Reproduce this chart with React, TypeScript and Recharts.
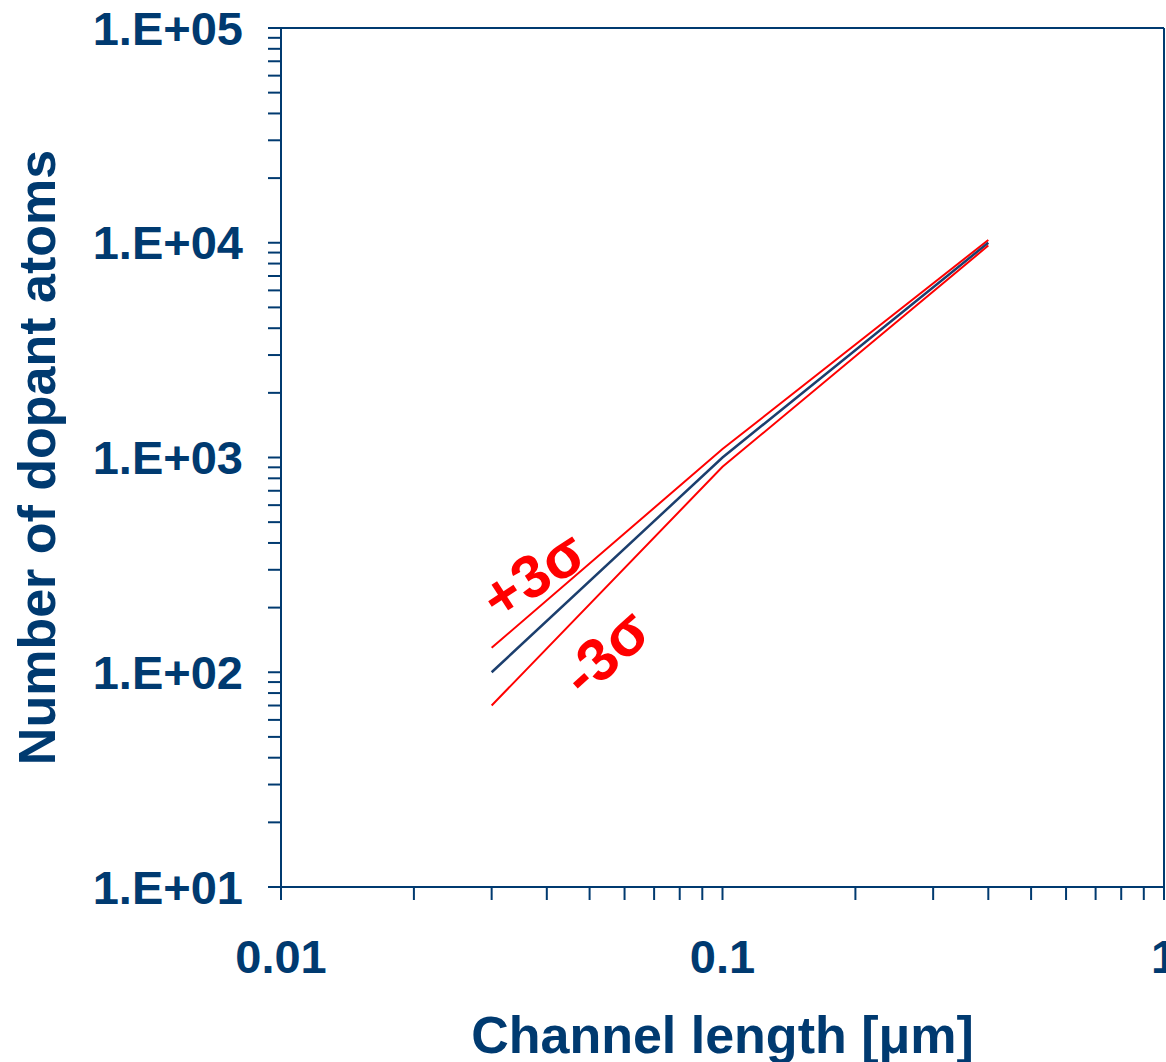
import {
  LineChart,
  Line,
  XAxis,
  YAxis,
  ReferenceLine,
  ReferenceDot,
  Label,
} from 'recharts';

const channelLength = [0.03, 0.1, 0.4];
const meanAtoms = [100, 1000, 10000];
const plus3Sigma = [130, 1095, 10300];
const minus3Sigma = [70, 905, 9700];

const xMajorTicks = [0.01, 0.1, 1];
const xMajorLabels = ['0.01', '0.1', '1'];
const yMajorTicks = [10, 100, 1000, 10000, 100000];
const yMajorLabels = ['1.E+01', '1.E+02', '1.E+03', '1.E+04', '1.E+05'];
const minorSteps = [2, 3, 4, 5, 6, 7, 8, 9];

const navy = '#003a70';
const red = '#ff0000';
const font = '"Liberation Sans", Arial, sans-serif';

const data = channelLength.map((x, i) => ({
  x,
  mean: meanAtoms[i],
  plus: plus3Sigma[i],
  minus: minus3Sigma[i],
}));

function withMinors(majors: number[]) {
  const out: number[] = [];
  majors.forEach((m, i) => {
    out.push(m);
    if (i < majors.length - 1) minorSteps.forEach((s) => out.push(+(m * s).toPrecision(3)));
  });
  return out;
}

const xTicks = withMinors(xMajorTicks);
const yTicks = withMinors(yMajorTicks);

function fmt(majors: number[], labels: string[]) {
  return (v: number) => {
    const i = majors.findIndex((m) => Math.abs(m - v) / m < 1e-6);
    return i >= 0 ? labels[i] : '';
  };
}

const sigmaLabel = (text: string, angle: number) => (p: any) => (
  <text
    x={p.cx}
    y={p.cy}
    transform={`rotate(${angle}, ${p.cx}, ${p.cy})`}
    textAnchor="middle"
    dominantBaseline="central"
    fill={red}
    fontFamily={font}
    fontWeight="bold"
    fontSize={60}
  >
    {text}
  </text>
);

export default function App() {
  const tickStyle = { fontSize: 47, fontWeight: 'bold', fill: navy, fontFamily: font };
  return (
    <div style={{ position: 'absolute', left: 0, top: 0, width: 1166, height: 1062, overflow: 'hidden' }}>
      <LineChart
        width={1166}
        height={1062}
        data={data}
        margin={{ top: 28, right: 2, left: 0, bottom: 0 }}
      >
        <XAxis
          dataKey="x"
          type="number"
          scale="log"
          domain={[0.01, 1]}
          allowDataOverflow
          ticks={xTicks}
          interval={0}
          tickFormatter={fmt(xMajorTicks, xMajorLabels)}
          tick={tickStyle}
          tickSize={13}
          tickMargin={40}
          height={175}
          stroke={navy}
          strokeWidth={2}
        >
          <Label
            content={({ viewBox }: any) => (
              <text
                x={viewBox.x + viewBox.width / 2}
                y={viewBox.y + 166}
                textAnchor="middle"
                fill={navy}
                fontFamily={font}
                fontWeight="bold"
                fontSize={52}
              >
                Channel length [μm]
              </text>
            )}
          />
        </XAxis>
        <YAxis
          type="number"
          scale="log"
          domain={[10, 100000]}
          allowDataOverflow
          ticks={yTicks}
          interval={0}
          tickFormatter={fmt(yMajorTicks, yMajorLabels)}
          tick={tickStyle}
          tickSize={13}
          tickMargin={25}
          width={281}
          stroke={navy}
          strokeWidth={2}
        >
          <Label
            content={({ viewBox }: any) => {
              const cx = viewBox.x + 37;
              const cy = viewBox.y + viewBox.height / 2;
              return (
                <text
                  x={cx}
                  y={cy}
                  transform={`rotate(-90, ${cx}, ${cy})`}
                  textAnchor="middle"
                  dominantBaseline="central"
                  fill={navy}
                  fontFamily={font}
                  fontWeight="bold"
                  fontSize={52}
                >
                  Number of dopant atoms
                </text>
              );
            }}
          />
        </YAxis>
        <ReferenceLine x={1} stroke={navy} strokeWidth={2} />
        <ReferenceLine y={100000} stroke={navy} strokeWidth={2} />
        <Line dataKey="plus" stroke={red} strokeWidth={2} dot={false} isAnimationActive={false} />
        <Line dataKey="mean" stroke="#1c3f6e" strokeWidth={2.5} dot={false} isAnimationActive={false} />
        <Line dataKey="minus" stroke={red} strokeWidth={2} dot={false} isAnimationActive={false} />
        <ReferenceDot x={0.0373} y={284} shape={sigmaLabel('+3σ', -33)} />
        <ReferenceDot x={0.0543} y={124} shape={sigmaLabel('-3σ', -42)} />
      </LineChart>
    </div>
  );
}
